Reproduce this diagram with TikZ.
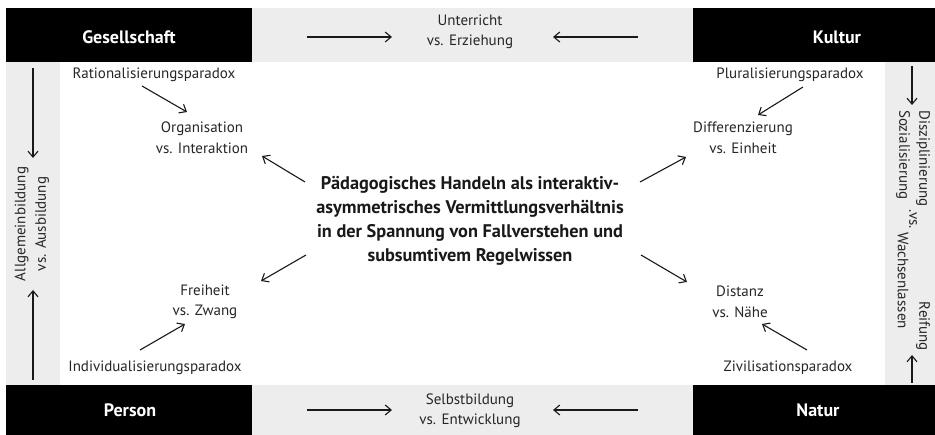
\documentclass[tikz,border=0pt]{standalone}
\usepackage{fontspec}
\setmainfont{PT Sans}
\begin{document}
\begin{tikzpicture}[x=1pt,y=-1pt,
  lbl/.style={font=\fontsize{15}{20.5}\selectfont, align=center, inner sep=0pt, text=black!85},
  corner/.style={font=\fontsize{18}{20}\selectfont\bfseries, text=white, inner sep=0pt},
  ctr/.style={font=\fontsize{18.3}{24}\selectfont\bfseries, align=center, inner sep=0pt, text=black!90},
  arr/.style={->, line width=1.1pt, >={Straight Barb[length=6pt,width=10pt]}, black!90},
  band/.style={fill=black!7, draw=none},
  blk/.style={fill=black, draw=none}]
\usetikzlibrary{arrows.meta}
\useasboundingbox (0,0) rectangle (935,435);
\fill[white] (0,0) rectangle (935,435);
% bands
\fill[band] (252,8) rectangle (693,62);
\fill[band] (252,385) rectangle (693,435);
\fill[band] (6,62) rectangle (60,385);
\fill[band] (885,62) rectangle (935,385);
\fill[blk] (6,8) rectangle (252,62);
\fill[blk] (693,8) rectangle (935,62);
\fill[blk] (6,385) rectangle (252,435);
\fill[blk] (693,385) rectangle (935,435);
% corner labels
\node[corner] (ges) at (129,37) {Gesellschaft};
\node[corner] (kul) at (837,37) {Kultur};
\node[corner] (per) at (130,410) {Person};
\node[corner] (nat) at (818,410) {Natur};
% top band
\node[lbl] (unt) at (470,32) {Unterricht\\vs. Erziehung};
\coordinate (t1) at (307,37); \coordinate (t2) at (392,37);
\coordinate (t3) at (638,37); \coordinate (t4) at (553,37);
\draw[arr] (t1) -- (t2);
\draw[arr] (t3) -- (t4);
% bottom band
\node[lbl] (sel) at (470,411) {Selbstbildung\\vs. Entwicklung};
\coordinate (b1) at (307,410); \coordinate (b2) at (392,410);
\coordinate (b3) at (638,410); \coordinate (b4) at (553,410);
\draw[arr] (b1) -- (b2);
\draw[arr] (b3) -- (b4);
% left column
\node[lbl, rotate=90] (all) at (32,224) {Allgemeinbildung\\vs. Ausbildung};
\coordinate (l1) at (33,68); \coordinate (l2) at (33,158);
\coordinate (l3) at (33,380); \coordinate (l4) at (33,290);
\draw[arr] (l1) -- (l2);
\draw[arr] (l3) -- (l4);
% right column
\node[lbl, rotate=-90, anchor=west] (dis) at (923,110) {Disziplinierung};
\node[lbl, rotate=-90, anchor=west] (soz) at (903,110) {Sozialisierung};
\node[lbl, rotate=-90] (vsr) at (913,219) {.vs.};
\node[lbl, rotate=-90, anchor=west] (wac) at (903,232) {Wachsenlassen};
\node[lbl, rotate=-90, anchor=east] (rei) at (923,351) {Reifung};
\coordinate (r1) at (912,66); \coordinate (r2) at (912,105);
\coordinate (r3) at (912,383); \coordinate (r4) at (912,355);
\draw[arr] (r1) -- (r2);
\draw[arr] (r3) -- (r4);
% center
\node[ctr] (c) at (470,221) {Pädagogisches Handeln als interaktiv-\\asymmetrisches Vermittlungsverhältnis\\in der Spannung von Fallverstehen und\\subsumtivem Regelwissen};
\coordinate (c1) at (305,182); \coordinate (c1t) at (262,156);
\coordinate (c2) at (640,182); \coordinate (c2t) at (686,157);
\coordinate (c3) at (306,255); \coordinate (c3t) at (261,281);
\coordinate (c4) at (641,255); \coordinate (c4t) at (687,282);
\draw[arr] (c1) -- (c1t);
\draw[arr] (c2) -- (c2t);
\draw[arr] (c3) -- (c3t);
\draw[arr] (c4) -- (c4t);
% corner pairs
\node[lbl] (rat) at (154,75) {Rationalisierungsparadox};
\node[lbl] (org) at (202,138) {Organisation\\vs. Interaktion};
\coordinate (ra1) at (142,86); \coordinate (ra2) at (187,112);
\draw[arr] (ra1) -- (ra2);
\node[lbl] (plu) at (790,75) {Pluralisierungsparadox};
\node[lbl] (dif) at (743,138) {Differenzierung\\vs. Einheit};
\coordinate (pl1) at (803,87); \coordinate (pl2) at (758,115);
\draw[arr] (pl1) -- (pl2);
\node[lbl] (fre) at (205,302) {Freiheit\\vs. Zwang};
\node[lbl] (ind) at (155,368) {Individualisierungsparadox};
\coordinate (in1) at (140,350); \coordinate (in2) at (185,324);
\draw[arr] (in1) -- (in2);
\node[lbl] (dst) at (740,302) {Distanz\\vs. Nähe};
\node[lbl] (ziv) at (788,368) {Zivilisationsparadox};
\coordinate (zi1) at (807,350); \coordinate (zi2) at (762,324);
\draw[arr] (zi1) -- (zi2);
\end{tikzpicture}
\end{document}
